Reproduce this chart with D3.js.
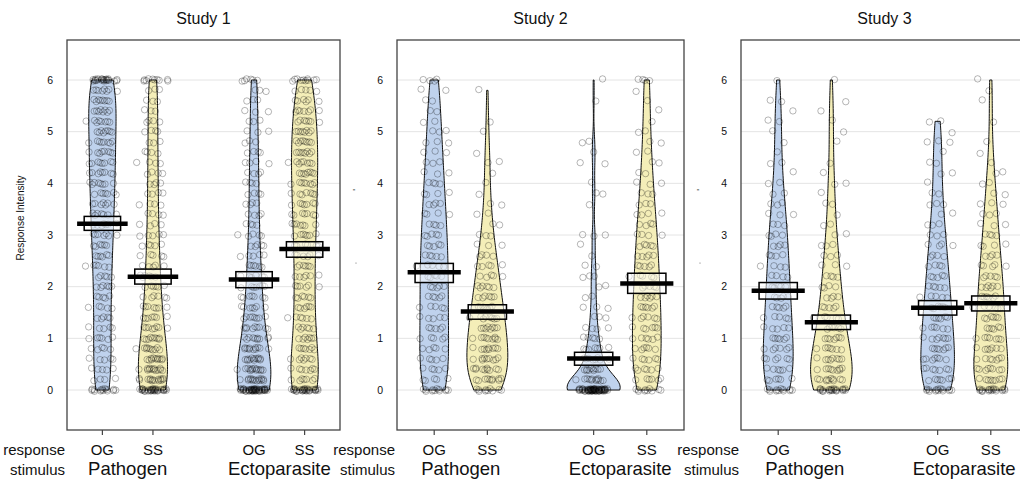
<!DOCTYPE html>
<html>
<head>
<meta charset="utf-8">
<script src="https://cdn.jsdelivr.net/npm/d3@7"></script>
<style>
body { margin: 0; background: #fff; }
text { font-family: "Liberation Sans", Arial, Helvetica, sans-serif; fill: #111; }
</style>
</head>
<body>
<div id="chart"></div>
<script>
// ---- data ----
var studies = ["Study 1", "Study 2", "Study 3"];
var stimuli = ["Pathogen", "Ectoparasite"];
var responses = ["OG", "SS"];
var yTicks = [0, 1, 2, 3, 4, 5, 6];
// response levels 0, 0.2, ... 6 ; the bean arrays below are counts per level
var levels = d3.range(31).map(function (i) { return Math.round(i * 2) / 10; });

var s1PathOG = [14,4,5,5,5,6,5,5,5,5,6,5,6,6,6,7,7,7,7,7,8,8,8,8,8,8,8,8,8,8,22];
var s1PathSS = [32,14,13,11,10,9,8,7,7,6,6,6,5,5,5,5,4,4,4,4,4,4,4,4,3,4,4,3,3,3,10];
var s1EctoOG = [48,15,14,12,11,10,9,8,7,7,7,6,6,5,5,5,4,4,4,4,4,4,4,4,3,3,3,3,3,3,6];
var s1EctoSS = [30,7,7,7,7,7,6,6,6,6,6,6,6,6,6,7,7,7,7,7,8,8,8,8,8,8,7,7,6,5,10];

var s2PathOG = [12,5,5,5,5,5,5,5,5,5,5,5,5,5,5,5,4,4,4,4,4,3,3,3,3,3,2,2,2,2,4];
var s2PathSS = [10,10,10,9,9,9,8,8,7,6,6,5,5,4,3,3,2,2,2,1,1,1,2,1,0,1,1,0,0,1,0];
var s2EctoOG = [66,12,10,8,7,5,4,3,3,2,2,3,2,1,1,3,0,0,1,2,1,0,2,1,2,0,0,0,1,0,1];
var s2EctoSS = [10,6,6,6,6,6,6,6,6,6,5,5,5,5,5,4,4,4,3,3,3,2,2,2,2,2,1,1,1,1,4];

var s3PathOG = [12,6,6,6,6,6,5,5,5,5,5,4,4,4,4,4,3,3,3,2,2,1,2,1,1,1,2,1,2,0,1];
var s3PathSS = [22,10,9,8,7,7,6,5,5,4,4,4,3,3,3,2,2,1,2,1,2,1,1,0,1,1,1,1,1,0,1];
var s3EctoOG = [14,7,7,7,7,7,6,6,6,5,5,5,4,4,4,3,3,2,3,2,1,2,2,1,3,1,2,0,0,0,0];
var s3EctoSS = [18,8,8,7,7,7,6,6,6,6,6,5,5,4,4,4,3,3,3,2,2,2,1,1,1,0,1,0,1,1,1];

// means and inference bands (Pathogen OG, Pathogen SS, Ecto OG, Ecto SS)
var means1 = [3.22, 2.19, 2.14, 2.73];
var bandLo1 = [3.09, 2.05, 1.98, 2.57];
var bandHi1 = [3.36, 2.34, 2.29, 2.87];
var means2 = [2.28, 1.52, 0.61, 2.06];
var bandLo2 = [2.08, 1.37, 0.48, 1.87];
var bandHi2 = [2.45, 1.65, 0.73, 2.26];
var means3 = [1.92, 1.31, 1.59, 1.68];
var bandLo3 = [1.76, 1.17, 1.45, 1.53];
var bandHi3 = [2.08, 1.45, 1.73, 1.82];

var beanCounts = [
  [s1PathOG, s1PathSS, s1EctoOG, s1EctoSS],
  [s2PathOG, s2PathSS, s2EctoOG, s2EctoSS],
  [s3PathOG, s3PathSS, s3EctoOG, s3EctoSS]
];
var beanMeans = [means1, means2, means3];
var beanLo = [bandLo1, bandLo2, bandLo3];
var beanHi = [bandHi1, bandHi2, bandHi3];

// ---- layout ----
var W = 1020, H = 479;
var boxTop = 40, boxBottom = 430;
var panelLeft = [67, 397, 741], panelRight = [340, 684, 1028];
var beanPos = [1, 2, 4, 5];
var beanColor = ["#bfd2ed", "#f4eeb8"];

var svg = d3.select("#chart").append("svg")
    .attr("width", W).attr("height", H);

var y = d3.scaleLinear().domain([0, 6]).range([390, 80]);

function frac(v) { return v - Math.floor(v); }

// gaussian kernel density, cut at data range (like R density with nrd0)
function beanDensity(vals) {
    var n = vals.length, sd = d3.deviation(vals);
    var sorted = vals.slice().sort(d3.ascending);
    var iqr = d3.quantile(sorted, 0.75) - d3.quantile(sorted, 0.25);
    var s = Math.min(sd, iqr / 1.34);
    if (!(s > 0)) s = sd;
    var bw = 0.9 * s * Math.pow(n, -0.2);
    var mn = d3.min(vals), mx = d3.max(vals);
    return d3.range(121).map(function (i) {
        var v = mn + (mx - mn) * i / 120;
        var d = d3.sum(vals, function (p) { var z = (v - p) / bw; return Math.exp(-0.5 * z * z); });
        return [v, d / (n * bw * Math.sqrt(2 * Math.PI))];
    });
}

studies.forEach(function (title, si) {
    var L = panelLeft[si], R = panelRight[si];
    var x = d3.scaleLinear().domain([0.3, 5.7]).range([L, R]);
    var g = svg.append("g");

    // gridlines
    g.selectAll(".grid").data(yTicks).enter().append("line")
        .attr("x1", L).attr("x2", R)
        .attr("y1", function (d) { return y(d); })
        .attr("y2", function (d) { return y(d); })
        .attr("stroke", "#e4e4e4").attr("stroke-width", 1);

    // y tick labels
    g.selectAll(".ytl").data(yTicks).enter().append("text")
        .attr("x", L - 14).attr("y", function (d) { return y(d) + 3.6; })
        .attr("text-anchor", "end").attr("font-size", 10.5)
        .text(function (d) { return d; });

    beanCounts[si].forEach(function (counts, bi) {
        var pos = beanPos[bi];
        var vals = [];
        counts.forEach(function (c, li) { for (var k = 0; k < c; k++) vals.push(levels[li]); });

        var dens = beanDensity(vals);
        var peak = d3.max(dens, function (d) { return d[1]; });
        var target = Math.max(0.27, Math.min(0.5, peak * 1.1));

        var area = d3.area()
            .y(function (d) { return y(d[0]); })
            .x0(function (d) { return x(pos - d[1] / peak * target); })
            .x1(function (d) { return x(pos + d[1] / peak * target); });

        g.append("path").datum(dens)
            .attr("d", area)
            .attr("fill", beanColor[bi % 2])
            .attr("stroke", "#111").attr("stroke-width", 1);

        // jittered raw points
        g.selectAll(null).data(vals).enter().append("circle")
            .attr("cx", function (d, k) {
                var j = frac(k * 0.618034 + 0.13) + frac(k * 0.7548777 + 0.41) - 1;
                return x(pos + j * 0.34);
            })
            .attr("cy", function (d, k) { return y(d + (frac(k * 0.5698403) - 0.5) * 0.05); })
            .attr("r", 3.2)
            .attr("fill", "none")
            .attr("stroke", "#000").attr("stroke-opacity", 0.32).attr("stroke-width", 0.9);

        // inference band
        g.append("rect")
            .attr("x", x(pos - 0.36)).attr("width", x(pos + 0.36) - x(pos - 0.36))
            .attr("y", y(beanHi[si][bi])).attr("height", y(beanLo[si][bi]) - y(beanHi[si][bi]))
            .attr("fill", "#fff").attr("fill-opacity", 0.5)
            .attr("stroke", "#000").attr("stroke-width", 1.5);

        // mean line
        g.append("line")
            .attr("x1", x(pos - 0.5)).attr("x2", x(pos + 0.5))
            .attr("y1", y(beanMeans[si][bi])).attr("y2", y(beanMeans[si][bi]))
            .attr("stroke", "#000").attr("stroke-width", 4.5);

        // bottom tick
        g.append("line")
            .attr("x1", x(pos)).attr("x2", x(pos))
            .attr("y1", boxBottom).attr("y2", boxBottom + 5)
            .attr("stroke", "#444").attr("stroke-width", 1.2);

        g.append("text")
            .attr("x", x(pos)).attr("y", 455)
            .attr("text-anchor", "middle").attr("font-size", 15)
            .text(responses[bi % 2]);
    });

    // stimulus labels
    stimuli.forEach(function (s, k) {
        g.append("text")
            .attr("x", x((beanPos[2 * k] + beanPos[2 * k + 1]) / 2)).attr("y", 475)
            .attr("text-anchor", "middle").attr("font-size", 18.5)
            .text(s);
    });

    g.append("text").attr("x", L - 2).attr("y", 455)
        .attr("text-anchor", "end").attr("font-size", 15).text("response");
    g.append("text").attr("x", L - 2).attr("y", 475)
        .attr("text-anchor", "end").attr("font-size", 15).text("stimulus");

    // frame
    g.append("rect")
        .attr("x", L).attr("y", boxTop)
        .attr("width", R - L).attr("height", boxBottom - boxTop)
        .attr("fill", "none").attr("stroke", "#444").attr("stroke-width", 1.3);

    // title
    g.append("text")
        .attr("x", (L + R) / 2).attr("y", 24)
        .attr("text-anchor", "middle").attr("font-size", 16)
        .text(title);

    // y axis title (only the first panel carries text)
    if (si === 0) {
        g.append("text")
            .attr("transform", "translate(24,218) rotate(-90)")
            .attr("text-anchor", "middle").attr("font-size", 10)
            .text("Response Intensity");
    } else {
        g.append("text")
            .attr("transform", "translate(" + (L - 38) + ",190) rotate(-90)")
            .attr("text-anchor", "middle").attr("font-size", 9).attr("fill", "#444")
            .text("'");
        g.append("circle")
            .attr("cx", L - 41).attr("cy", 263).attr("r", 0.6).attr("fill", "#666");
    }
});
</script>
</body>
</html>
